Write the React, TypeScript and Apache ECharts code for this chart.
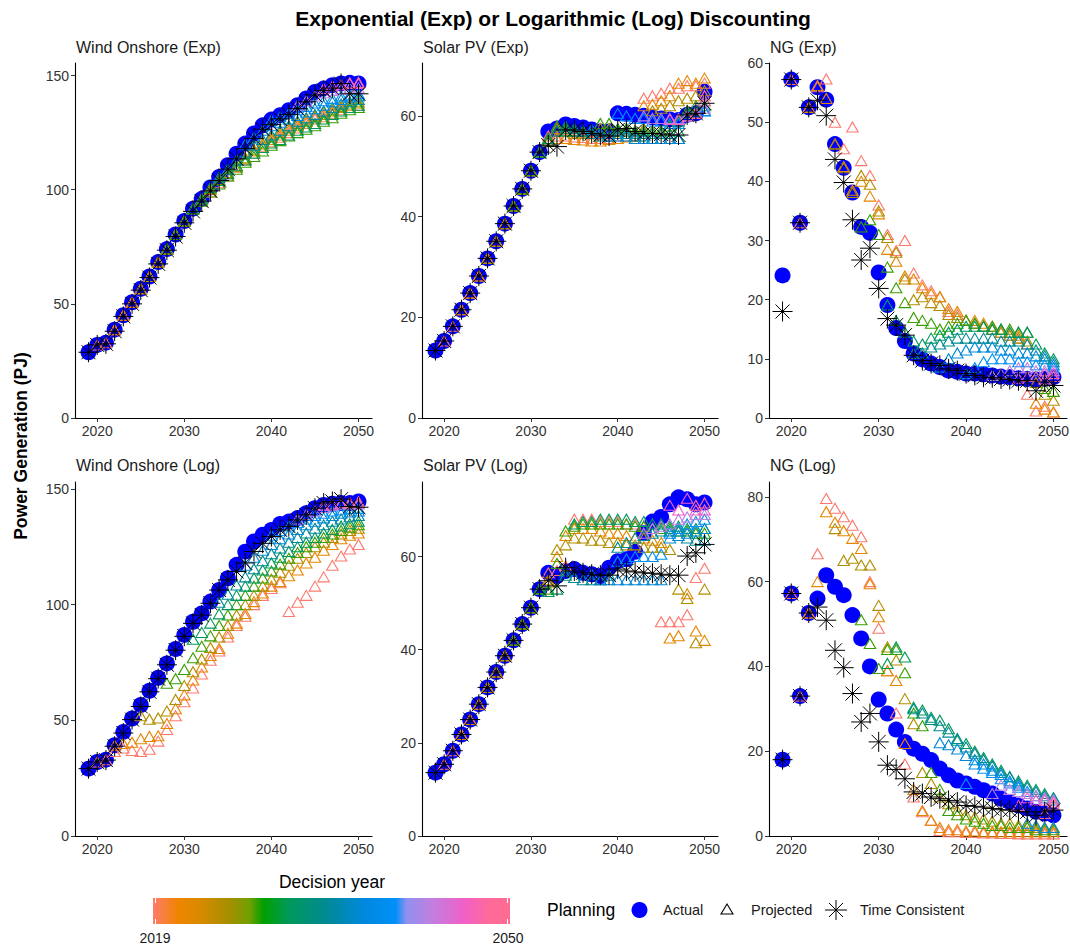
import React, { useEffect, useRef } from "react";
import * as echarts from "echarts";

// ---------- DATA ----------
const years = [2019, 2020, 2021, 2022, 2023, 2024, 2025, 2026, 2027, 2028, 2029, 2030, 2031, 2032, 2033, 2034, 2035, 2036, 2037, 2038, 2039, 2040, 2041, 2042, 2043, 2044, 2045, 2046, 2047, 2048, 2049, 2050];
const decisionYears = [2019, 2022, 2025, 2028, 2031, 2034, 2037, 2040, 2043, 2046, 2049];
const xTicks = [2020, 2030, 2040, 2050];

// Wind Onshore (Exp)
const windExpActual = [28.8, 32, 33, 38.7, 45, 50.7, 56.6, 62, 68.3, 74, 80.4, 86.3, 91.7, 96, 101, 105.6, 110.7, 115.8, 120.2, 124.6, 128.2, 130.7, 132.6, 134.8, 137, 140, 142.8, 144.3, 145.8, 146.5, 146.8, 146.5];
const windExpTC = [28.8, 32, 32.5, 38, 44.5, 50, 56, 61.5, 67.5, 73.5, 79.5, 85.5, 90.5, 95, 99.5, 104, 109, 113.5, 118, 122.5, 126.5, 128.5, 131, 133, 135.5, 138.5, 141.5, 143.5, 144.5, 146.5, 142, 142];
const windExpProj = [
  [null, 32, 33, 38.7, 45, 50.7, 56.6, 62, 68.3, 74, 80.4, 86.3, 91.7, 96, 99, 103, 106, 110, 113, 116, 119, 121, 123, 125, 127, 129, 131, 132, 133.5, 135, 136, 137],
  [38.7, 45, 50.7, 56.6, 62, 68.3, 74, 80.4, 86.3, 91.7, 96, 100, 104, 107, 110, 113.5, 117, 120, 122, 124, 126, 128, 130, 132, 133, 134.5, 136, 137, 138],
  [56.6, 62, 68.3, 74, 80.4, 86.3, 91.7, 96, 100.5, 104.5, 107.5, 110.5, 114, 117.5, 120.5, 123, 125, 127, 129, 131, 132.5, 134, 135, 136.5, 137.5, 138.5],
  [74, 80.4, 86.3, 91.7, 95, 99, 102.5, 106, 109, 112, 114.5, 117, 119.5, 121.5, 123.5, 125, 126.5, 128, 130, 131.5, 133.5, 135, 136],
  [91.7, 96, 101, 104, 107, 110.5, 113, 116, 118.5, 120.5, 122, 124, 126, 127.5, 129, 131, 133, 134.5, 136, 137],
  [105.6, 109, 113, 116.5, 119.5, 122, 124, 126, 128, 130, 131.5, 133, 134.5, 136, 137.5, 138.5, 139.5],
  [120, 123, 126, 128, 129.5, 131, 132.5, 134, 135.5, 137, 138.5, 139.5, 140.5, 141],
  [130.5, 132, 133.5, 135, 136.5, 138, 139, 140, 141, 141.5, 142],
  [137, 139, 141, 142.5, 143.5, 144, 144.5, 144.5],
  [144.3, 145.5, 146, 146.5, 146.5],
  [146.8, 147],
];

// Solar PV (Exp)
const solarExpActual = [13.4, 15.3, 18.2, 21.5, 24.8, 28.2, 31.7, 35.1, 38.6, 42.1, 45.5, 49.1, 52.8, 56.9, 57.5, 58.3, 58, 57.7, 57.3, 56.9, 56.9, 60.5, 60.4, 60.2, 60, 59.7, 59.5, 59.3, 59.2, 60.2, 60.5, 64.8];
const solarExpTC = [13.4, 15.3, 18.2, 21.5, 24.8, 28.2, 31.7, 35.1, 38.6, 42.1, 45.5, 49.1, 52.8, 54.2, 53.9, 57.2, 57.2, 56.9, 56.5, 56.2, 56, 57.2, 57.5, 56.9, 56.5, 56.5, 56.4, 56.2, 56.2, 60.2, 60.5, 62.5];
const solarExpProj = [
  [null, 15.3, 18.2, 21.5, 24.8, 28.2, 31.7, 35.1, 38.6, 42.1, 45.5, 49.1, 52.8, 56, 56, 56, 55.8, 55.7, 55.5, 55.5, 55.5, 56, 56, 56, 63.5, 64, 64.5, 65.5, 65.5, 66, 66, 66.5],
  [21.5, 24.8, 28.2, 31.7, 35.1, 38.6, 42.1, 45.5, 49.1, 52.8, 55.5, 55.5, 55.5, 55.3, 55.2, 55, 55, 55.3, 55.5, 55.8, 56, 62, 62.3, 63, 64, 66.5, 67, 66.5, 67.5],
  [31.7, 35.1, 38.6, 42.1, 45.5, 49.1, 52.8, 55, 57.5, 57, 56.5, 56.5, 56.5, 57.5, 57.5, 57, 57, 57, 57.5, 61, 61.5, 62, 63, 63.5, 64, 65],
  [42.1, 45.5, 49.1, 52.8, 55, 58, 57.5, 57, 57, 56.5, 58.5, 58.5, 57.5, 57.5, 57, 57, 57, 57, 58, 59, 61, 62, 63],
  [52.8, 55.5, 57, 57, 57, 57, 56.5, 56.5, 57, 57, 57, 56.5, 56.5, 56.5, 56.5, 56.5, 57, 60.5, 61, 62],
  [58, 57.5, 57, 56.5, 56, 56, 56.5, 56.5, 56, 56, 55.5, 55.5, 55.5, 55.5, 60, 60.5, 61],
  [57.3, 56.5, 56, 56, 56, 55.5, 55.5, 55.5, 55.5, 55.5, 55.5, 60, 60.5, 61],
  [60.5, 60, 59.5, 59.5, 59, 59, 58.5, 58.5, 60, 60.5, 61],
  [60, 59.5, 59.5, 59.5, 59.5, 60, 60.5, 61.5],
  [59.3, 59.3, 60, 60.5, 63],
  [60.5, 64],
];

// NG (Exp)
const ngExpActual = [24.1, 57.2, 33, 52.5, 55.9, 53.8, 46.3, 42.3, 38.1, 32.3, 31.3, 24.6, 19.1, 15.2, 13, 10.9, 9.9, 9.2, 8.6, 8, 7.8, 7.5, 7.5, 7.4, 7.2, 7, 6.9, 6.7, 6.6, 6.5, 6.6, 6.9];
const ngExpTC = [18, 57.2, 33, 52.5, 53.7, 51.1, 43.7, 39.8, 33.5, 26.7, 28.7, 21.9, 16.8, 15.7, 14, 10.6, 9.7, 9.2, 8.9, 8.3, 8, 7.5, 7.2, 6.9, 6.8, 6.6, 6.5, 6.3, 6.3, 4.6, 6.1, 5.5];
const ngExpProj = [
  [null, 57.2, 33, 52.5, 56, 57.3, 50, 45.5, 49.2, 43.5, 41, 36, 31, 28.3, 30, 24.5, 22.5, 21.5, 20.5, 18, 17.5, 16.5, 16, 15.5, 15, 14.5, 14, 13.5, 4, 1.2, 2, 1],
  [52.5, 56.2, 54, 46.3, 42.5, 38.5, 40, 37.5, 34.5, 28.5, 26.5, 24, 23.5, 22, 21, 20.5, 18.5, 18, 16.5, 16.5, 16, 15.5, 15, 14.5, 14, 12.5, 2.5, 1.5, 1],
  [46.3, 42.3, 38.1, 41, 39.5, 35, 30.5, 28, 23.5, 20, 20.5, 19.5, 19, 17.5, 17, 16.5, 16, 15.5, 15, 14.5, 14, 13.5, 13, 6, 4, 3],
  [32.3, 33.5, 31, 25.5, 22, 19.5, 17, 16.5, 16, 15, 15.5, 16, 16.5, 16, 15.5, 15.5, 15, 15, 14.5, 14.5, 7, 5, 4.5],
  [19.1, 16.5, 14.5, 13, 12.5, 13.5, 14, 14.5, 15, 15.5, 15.5, 15.5, 15, 15, 14.5, 14.5, 14.5, 12.5, 11, 10],
  [10.9, 11, 12, 12.5, 13, 13.5, 13.5, 13.5, 13.5, 13.5, 13, 13, 13, 12.5, 11.5, 10.5, 9.5],
  [8.6, 10, 11, 11.5, 12, 12, 12, 11.5, 11.5, 11, 11, 10.5, 10, 9],
  [7.5, 8.5, 9.5, 10, 10, 10, 9.5, 9.5, 9, 9, 8.5],
  [7.2, 7.5, 8, 8.5, 8.5, 8, 8, 8],
  [6.7, 7, 7, 7.5, 7.5],
  [6.6, 7],
];

// Wind Onshore (Log)
const windLogActual = [29.1, 32, 33, 39.2, 45, 50.8, 56.6, 62.8, 68.4, 74.6, 80.8, 86.9, 92.6, 96.2, 101.3, 106.3, 111.4, 117.2, 122.9, 127.3, 130.2, 132.3, 134.9, 135.9, 137.4, 139.5, 141.7, 143.1, 143.6, 143.9, 143.9, 144.6];
const windLogTC = [29.1, 32, 32.8, 38.8, 44.5, 50.3, 56, 62.3, 68, 74, 80.3, 86.3, 91.9, 95.5, 100.6, 106.3, 110.7, 114.3, 118, 123, 126.5, 129.4, 132.3, 133.8, 136.6, 138.8, 141.7, 143.9, 144.6, 145.6, 142.4, 142.1];
const windLogProj = [
  [null, 32, 33, 36.5, 38, 37, 36.5, 37.5, 41, 46, 52, 58, 64, 70, 76, 80, 86, 91, 95, 100, 104, 107, 109.5, 97, 101, 104, 108, 112, 117, 121, 124, 126],
  [39.2, 40, 40.5, 42, 43, 43.3, 48.6, 55, 61, 67.4, 73, 78, 81, 87.6, 92, 96.2, 101.3, 105, 108, 110, 112.5, 115, 118, 120.5, 123.5, 126, 128.5, 130, 131],
  [52, 50.5, 51, 54, 59, 65, 71, 76.5, 81.5, 86, 91, 95.5, 100, 104, 108, 111, 114, 117, 120, 122.5, 125, 127, 129, 130.5, 132, 133],
  [66, 68, 72, 77, 82, 86.5, 91, 95.5, 100, 104, 108, 111.5, 114.5, 117.5, 120, 122.5, 125, 127, 129, 130.5, 132, 133.5, 134.5],
  [85, 88, 92, 96, 100, 104, 108, 111.5, 115, 118, 120.5, 123, 125, 127, 129, 131, 132.5, 134, 135, 136],
  [101, 104.5, 108.5, 112, 115.5, 119, 122, 124.5, 127, 129, 131, 133, 134.5, 136, 137, 138, 138.5],
  [117, 120.5, 123.5, 126, 128.5, 130.5, 132.5, 134.5, 136, 137.5, 138.5, 139.5, 140, 140.5],
  [130, 132, 134, 135.5, 137, 138.5, 139.5, 140.5, 141, 141.5, 141.5],
  [137, 139, 140.5, 142, 143, 143.5, 143.5, 143.5],
  [143, 143.5, 144, 144, 144],
  [144, 144.5],
];

// Solar PV (Log)
const solarLogActual = [13.6, 15.4, 18.3, 21.8, 25, 28.3, 31.9, 35.2, 38.7, 42, 45.5, 49, 53, 56.5, 55.8, 56.9, 57.3, 56.5, 56.2, 55.8, 57.6, 59, 59.4, 61, 65, 67.5, 68.5, 71.2, 72.7, 72.3, 71.2, 71.6];
const solarLogTC = [13.6, 15.4, 18.3, 21.8, 25, 28.3, 31.9, 35.2, 38.7, 42, 45.5, 49, 53, 54.8, 53.7, 57.6, 56.9, 56.5, 56.2, 56, 56, 57.3, 56.9, 56.7, 56.5, 56.4, 56.2, 56, 56, 60.1, 60.8, 62.6];
const solarLogProj = [
  [null, 15.4, 18.3, 21.8, 25, 28.3, 31.9, 35.2, 38.7, 42, 45.5, 49, 53, 56.5, 57, 58, 68, 68, 68, 67.5, 67.5, 67.5, 67, 67, 66.5, 66, 46, 46, 46, 47.5, 55.5, 57.5],
  [21.8, 25, 28.3, 31.9, 35.2, 38.7, 42, 45.5, 49, 53, 55, 60, 64.5, 66, 66, 66, 65.5, 65, 65, 64.5, 64, 64, 63.5, 63, 42.5, 43, 52, 44, 42],
  [31.9, 35.2, 38.7, 42, 45.5, 49, 53, 54.5, 61.5, 62.5, 64, 64, 63.5, 63.5, 63, 63, 62.5, 62.5, 62, 62, 62, 61.5, 53, 51, 41.5, 53],
  [42, 45.5, 49, 53, 53, 58.5, 65.5, 66.5, 67, 67, 67, 67, 67, 67, 66.5, 66.5, 66, 66, 66, 65.5, 65.5, 65, 65],
  [53, 52.5, 53, 56, 67, 67.5, 67.5, 68, 68, 68, 68, 67.5, 67.5, 67, 67, 66.5, 66.5, 66, 66, 66],
  [56.9, 55.5, 55, 55, 55, 56, 62, 63, 64, 64.5, 65, 65.5, 65.5, 65.5, 64, 63.5, 63.5],
  [56.2, 55, 55, 55, 55, 55, 55, 55, 55, 64, 64.5, 65, 65.5, 66],
  [59, 59.5, 60, 60, 60, 60.5, 65, 66, 67, 67.5, 68],
  [65, 66, 66.5, 67, 68, 68.5, 69, 69],
  [71, 70, 72.5, 70, 70],
  [71, 71.5],
];

// NG (Log)
const ngLogActual = [18, 57.2, 33, 52.6, 56, 61.5, 58.8, 56.8, 52.1, 46.6, 40, 32.2, 28.9, 25.1, 22.2, 20.6, 19.4, 17.9, 15.9, 14.3, 13.1, 12.4, 11.6, 10.8, 10, 8.8, 8, 7.2, 6.5, 5.7, 5.3, 4.9];
const ngLogTC = [18, 57.2, 33, 52.6, 54, 50.9, 43.8, 39.7, 33.6, 26.9, 28.9, 22.2, 16.7, 15.7, 13.5, 10.4, 10, 9.2, 8.8, 8.4, 8, 7.2, 7, 6.8, 6.5, 6.2, 6.1, 5.8, 5.7, 4.9, 5.7, 6.1];
const ngLogProj = [
  [null, 57.2, 33, 52.6, 66.6, 79.6, 77.3, 75.3, 73.3, 70.6, 60, 49, 39, 29, 17, 9.2, 5.7, 3.7, 1.3, 1, 1, 0.8, 0.8, 0.7, 0.7, 0.6, 0.6, 0.5, 0.5, 0.5, 0.5, 0.5],
  [52.6, 60, 76.5, 74, 72, 70.2, 67.8, 59.5, 51.7, 39, 36.7, 21.8, 11, 6, 3.7, 2, 1.5, 1.5, 1.2, 1.2, 1, 1, 1, 1, 1, 1, 1, 1, 1],
  [72.5, 65, 65.5, 63.9, 63.9, 54.4, 44.6, 41.5, 32.4, 26.5, 15, 12.4, 9.2, 7.6, 6, 5, 4.5, 4, 3.5, 3, 3, 2.5, 2.5, 2, 2, 2],
  [51, 45.4, 39.5, 44, 44, 38.5, 29, 26, 15, 11, 6, 5, 4, 3.5, 3, 2.5, 2.5, 2, 2, 2, 1.5, 1.5, 1.5],
  [40.7, 44.6, 42.2, 30.4, 29.7, 28, 27.3, 25.3, 22.6, 21.8, 20, 18.5, 17, 15.5, 14, 13, 12, 11, 10, 9],
  [30, 29, 27.5, 26, 24.5, 23, 21, 19.5, 18, 16.5, 15, 14, 12.5, 11.5, 10.5, 9.5, 9],
  [22, 21.5, 20.5, 19, 18, 17, 15.5, 14.5, 13, 12, 3, 2.5, 2, 2],
  [12.4, 17, 16, 15, 13.5, 12.5, 11.5, 10.5, 9.5, 9, 8.5],
  [10, 12, 11, 10.5, 10, 9.5, 9, 8.5],
  [7.2, 9, 8.5, 8.5, 8],
  [5.3, 7.5],
];

const panelTitles = ["Wind Onshore (Exp)", "Solar PV (Exp)", "NG (Exp)", "Wind Onshore (Log)", "Solar PV (Log)", "NG (Log)"];
const panelActual = [windExpActual, solarExpActual, ngExpActual, windLogActual, solarLogActual, ngLogActual];
const panelTC = [windExpTC, solarExpTC, ngExpTC, windLogTC, solarLogTC, ngLogTC];
const panelProj = [windExpProj, solarExpProj, ngExpProj, windLogProj, solarLogProj, ngLogProj];
const panelYMax = [155.5, 70.5, 60, 153, 76, 83.5];
const panelYTicks = [[0, 50, 100, 150], [0, 20, 40, 60], [0, 10, 20, 30, 40, 50, 60], [0, 50, 100, 150], [0, 20, 40, 60], [0, 20, 40, 60, 80]];

// ---------- STYLE ----------
const FONT = '"Liberation Sans", Arial, Helvetica, sans-serif';
const gradStops: [number, string][] = [
  [0, "#FF7A6E"], [0.07, "#F08500"], [0.13, "#D98A00"], [0.22, "#A09000"], [0.27, "#70A000"],
  [0.31, "#00A000"], [0.38, "#00995A"], [0.48, "#008A90"], [0.59, "#0088DD"], [0.68, "#0090F8"],
  [0.71, "#9090F0"], [0.78, "#C080E0"], [0.87, "#F060C8"], [0.94, "#FF6A9A"], [1, "#FF6C90"],
];
function hexRgb(h: string) {
  return [parseInt(h.slice(1, 3), 16), parseInt(h.slice(3, 5), 16), parseInt(h.slice(5, 7), 16)];
}
function decisionColor(d: number) {
  const t = (d - 2019) / 31;
  for (let i = 0; i < gradStops.length - 1; i++) {
    const [a, ca] = gradStops[i];
    const [b, cb] = gradStops[i + 1];
    if (t >= a && t <= b) {
      const f = b === a ? 0 : (t - a) / (b - a);
      const A = hexRgb(ca), B = hexRgb(cb);
      const c = A.map((v, k) => Math.round(v + (B[k] - v) * f));
      return `rgb(${c[0]},${c[1]},${c[2]})`;
    }
  }
  return gradStops[gradStops.length - 1][1];
}

const colLeft = [75, 422, 769];
const colWidth = [297, 296, 298];
const rowTop = [63, 482];
const rowHeight = [355, 354];
const ASTERISK = "path://M10 0L10 20M0 10L20 10M3 3L17 17M3 17L17 3";

function buildOption() {
  const grid: any[] = [];
  const xAxis: any[] = [];
  const yAxis: any[] = [];
  const series: any[] = [];
  const graphic: any[] = [];

  for (let i = 0; i < 6; i++) {
    const r = Math.floor(i / 3), c = i % 3;
    grid.push({ left: colLeft[c], top: rowTop[r], width: colWidth[c], height: rowHeight[r], containLabel: false, outerBoundsMode: "none" });
    xAxis.push({
      type: "value", gridIndex: i, min: 2017.45, max: 2051.55,
      axisLine: { onZero: false, lineStyle: { color: "#000", width: 1.1 } },
      axisTick: { show: true, length: 4, customValues: xTicks, lineStyle: { color: "#333", width: 1 } },
      axisLabel: { customValues: xTicks, fontSize: 14, color: "#333", margin: 6, fontFamily: FONT, formatter: (v: number) => String(Math.round(v)) },
      splitLine: { show: false },
    });
    yAxis.push({
      type: "value", gridIndex: i, min: 0, max: panelYMax[i],
      axisLine: { show: true, onZero: false, lineStyle: { color: "#000", width: 1.1 } },
      axisTick: { show: true, length: 4, customValues: panelYTicks[i], lineStyle: { color: "#333", width: 1 } },
      axisLabel: { customValues: panelYTicks[i], fontSize: 14, color: "#333", margin: 6, fontFamily: FONT, formatter: (v: number) => String(Math.round(v)) },
      splitLine: { show: false },
    });

    series.push({
      type: "scatter", xAxisIndex: i, yAxisIndex: i, silent: true, z: 2,
      symbol: "circle", symbolSize: 16,
      itemStyle: { color: "#0000FF", opacity: 1 },
      data: years.map((y, k) => [y, panelActual[i][k]]),
    });
    panelProj[i].forEach((traj, j) => {
      const d = decisionYears[j];
      const col = decisionColor(d);
      series.push({
        type: "scatter", xAxisIndex: i, yAxisIndex: i, silent: true, z: 3,
        symbol: "triangle", symbolSize: [11.5, 10],
        itemStyle: { color: "rgba(0,0,0,0)", borderColor: col, borderWidth: 1.1, opacity: 1 },
        data: traj.map((v, k) => (v == null ? null : [d + k, v])).filter((p) => p != null),
      });
    });
    series.push({
      type: "scatter", xAxisIndex: i, yAxisIndex: i, silent: true, z: 4,
      symbol: ASTERISK, symbolSize: 20,
      itemStyle: { color: "rgba(0,0,0,0)", borderColor: "#000", borderWidth: 1, opacity: 1 },
      data: years.map((y, k) => [y, panelTC[i][k]]),
    });

    graphic.push({
      type: "text", x: colLeft[c] + 1, y: r === 0 ? 47 : 465,
      style: { text: panelTitles[i], font: `16px ${FONT}`, fill: "#1a1a1a", textAlign: "left", textVerticalAlign: "middle" },
    });
  }

  // Title and y-axis title
  graphic.push({
    type: "text", x: 553, y: 18,
    style: { text: "Exponential (Exp) or Logarithmic (Log) Discounting", font: `bold 21px ${FONT}`, fill: "#000", textAlign: "center", textVerticalAlign: "middle" },
  });
  graphic.push({
    type: "text", x: 21, y: 446, rotation: Math.PI / 2,
    style: { text: "Power Generation (PJ)", font: `bold 17.5px ${FONT}`, fill: "#000", textAlign: "center", textVerticalAlign: "middle" },
  });

  // Colour bar legend
  graphic.push({
    type: "text", x: 332, y: 882,
    style: { text: "Decision year", font: `17.5px ${FONT}`, fill: "#000", textAlign: "center", textVerticalAlign: "middle" },
  });
  graphic.push({
    type: "rect", shape: { x: 153, y: 898, width: 357, height: 26 },
    style: {
      fill: { type: "linear", x: 0, y: 0, x2: 1, y2: 0, colorStops: gradStops.map(([o, cc]) => ({ offset: o, color: cc })) },
    },
  });
  [155.5, 507.5].forEach((x) => {
    graphic.push({ type: "line", shape: { x1: x, y1: 898, x2: x, y2: 903 }, style: { stroke: "#fff", lineWidth: 1 } });
    graphic.push({ type: "line", shape: { x1: x, y1: 919, x2: x, y2: 924 }, style: { stroke: "#fff", lineWidth: 1 } });
  });
  graphic.push({ type: "text", x: 155, y: 938, style: { text: "2019", font: `14px ${FONT}`, fill: "#1a1a1a", textAlign: "center", textVerticalAlign: "middle" } });
  graphic.push({ type: "text", x: 508, y: 938, style: { text: "2050", font: `14px ${FONT}`, fill: "#1a1a1a", textAlign: "center", textVerticalAlign: "middle" } });

  // Planning legend
  graphic.push({ type: "text", x: 547, y: 910, style: { text: "Planning", font: `17.5px ${FONT}`, fill: "#000", textAlign: "left", textVerticalAlign: "middle" } });
  graphic.push({ type: "circle", shape: { cx: 639.5, cy: 910, r: 8 }, style: { fill: "#0000FF" } });
  graphic.push({ type: "text", x: 663, y: 910, style: { text: "Actual", font: `14.5px ${FONT}`, fill: "#1a1a1a", textAlign: "left", textVerticalAlign: "middle" } });
  graphic.push({ type: "polygon", shape: { points: [[727, 904], [733, 914], [721, 914]] }, style: { fill: "none", stroke: "#000", lineWidth: 1.1 } });
  graphic.push({ type: "text", x: 751, y: 910, style: { text: "Projected", font: `14.5px ${FONT}`, fill: "#1a1a1a", textAlign: "left", textVerticalAlign: "middle" } });
  const ax = 836, ay = 910;
  [[0, -10, 0, 10], [-11, 0, 11, 0], [-7, -7, 7, 7], [-7, 7, 7, -7]].forEach(([x1, y1, x2, y2]) => {
    graphic.push({ type: "line", shape: { x1: ax + x1, y1: ay + y1, x2: ax + x2, y2: ay + y2 }, style: { stroke: "#000", lineWidth: 1 } });
  });
  graphic.push({ type: "text", x: 860, y: 910, style: { text: "Time Consistent", font: `14.5px ${FONT}`, fill: "#1a1a1a", textAlign: "left", textVerticalAlign: "middle" } });

  return {
    animation: false,
    backgroundColor: "#fff",
    textStyle: { fontFamily: FONT },
    grid, xAxis, yAxis, series, graphic,
  };
}

export default function App() {
  const ref = useRef<HTMLDivElement>(null);
  useEffect(() => {
    if (!ref.current) return;
    const chart = echarts.init(ref.current, undefined, { renderer: "svg" });
    chart.setOption(buildOption() as any);
    return () => chart.dispose();
  }, []);
  return <div ref={ref} style={{ position: "absolute", left: 0, top: 0, width: 1070, height: 947 }} />;
}
